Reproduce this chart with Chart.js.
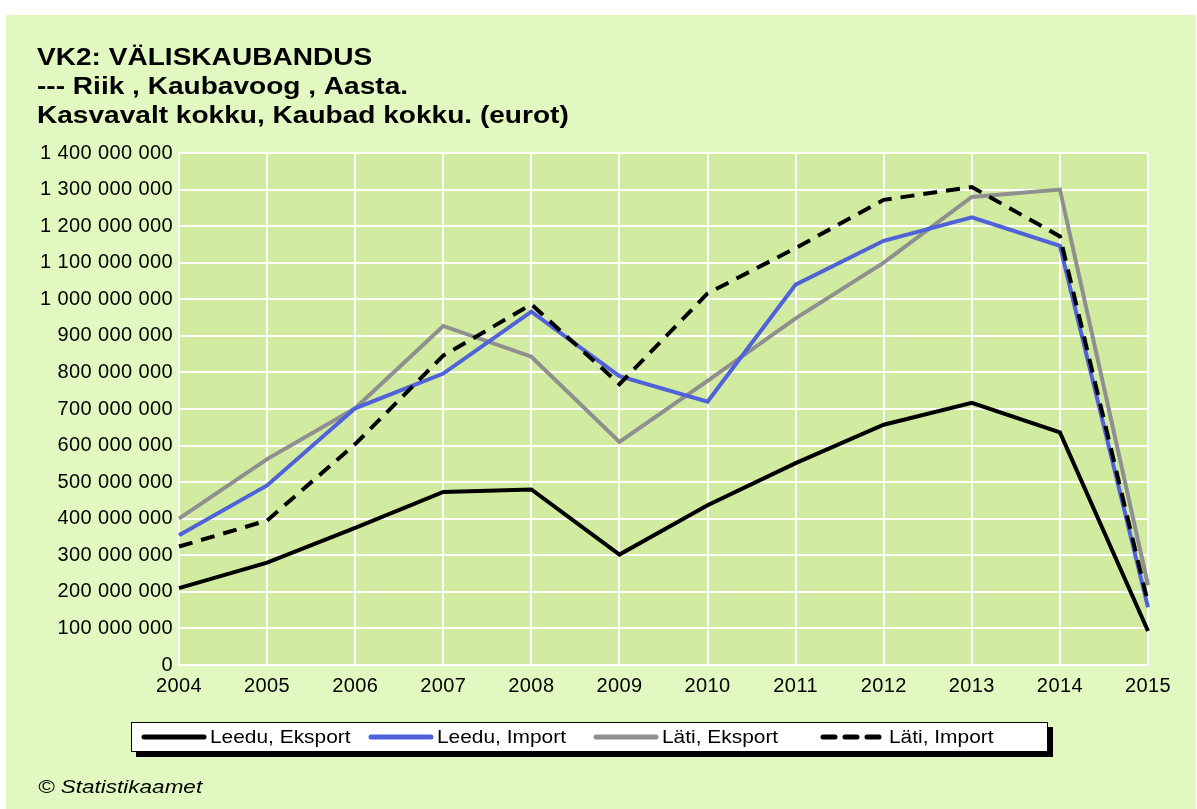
<!DOCTYPE html>
<html>
<head>
<meta charset="utf-8">
<script src="https://cdn.jsdelivr.net/npm/chart.js@4/dist/chart.umd.min.js"></script>
<style>
    body { margin: 0; background: #ffffff; }
    canvas { display: block; }
</style>
</head>
<body>
<canvas id="vkChart" width="1197" height="809"></canvas>
<script>
// aastad
const years = ['2004', '2005', '2006', '2007', '2008', '2009', '2010', '2011', '2012', '2013', '2014', '2015'];

// eurot
const leeduEksport = [210e6, 280e6, 375e6, 473e6, 480e6, 302e6, 437e6, 552e6, 657e6, 717e6, 636e6, 93e6];
const leeduImport = [355e6, 491e6, 702e6, 797e6, 966e6, 790e6, 720e6, 1040e6, 1160e6, 1224e6, 1146e6, 158e6];
const latiEksport = [400e6, 563e6, 702e6, 927e6, 843e6, 610e6, 777e6, 948e6, 1100e6, 1280e6, 1300e6, 218e6];
const latiImport = [324e6, 395e6, 604e6, 846e6, 986e6, 768e6, 1016e6, 1140e6, 1272e6, 1307e6, 1172e6, 170e6];

const seriesNames = ['Leedu, Eksport', 'Leedu, Import', 'Läti, Eksport', 'Läti, Import'];

const titleLines = ['VK2: VÄLISKAUBANDUS', '--- Riik , Kaubavoog , Aasta.', 'Kasvavalt kokku, Kaubad kokku. (eurot)'];
const footerText = '© Statistikaamet';

const FONT = '"Liberation Sans", Arial, sans-serif';

function fmtSpaces(v) {
    return String(Math.round(v)).replace(/\B(?=(\d{3})+(?!\d))/g, ' ');
}

// tekst horisontaalselt venitatuna (originaalpilt on laiem)
function wideText(ctx, text, x, y, sx) {
    ctx.save();
    ctx.translate(x, y);
    ctx.scale(sx, 1);
    ctx.fillText(text, 0, 0);
    ctx.restore();
}

// taust, pealkiri, legend
const decorPlugin = {
    id: 'decor',
    beforeDraw(chart) {
        const ctx = chart.ctx;
        const a = chart.chartArea;
        ctx.save();
        ctx.fillStyle = '#ffffff';
        ctx.fillRect(0, 0, chart.width, chart.height);
        ctx.fillStyle = '#e2f8c1';
        ctx.fillRect(6, 15, chart.width - 7, chart.height - 15);
        ctx.fillStyle = '#d1eca0';
        ctx.fillRect(a.left, a.top, a.right - a.left, a.bottom - a.top);

        ctx.fillStyle = '#000000';
        ctx.textBaseline = 'alphabetic';
        ctx.font = 'bold 23px ' + FONT;
        titleLines.forEach((t, i) => wideText(ctx, t, 37, 65 + i * 29, 1.22));

        ctx.font = 'italic 18px ' + FONT;
        wideText(ctx, footerText, 38, 793, 1.25);
        ctx.restore();
        ctx.letterSpacing = '0.4px';
    },
    afterDraw(chart) {
        const ctx = chart.ctx;
        ctx.letterSpacing = '0px';
        const bx = 131, by = 722, bw = 917, bh = 30;
        ctx.save();
        ctx.fillStyle = '#000000';
        ctx.fillRect(bx + 5, by + 5, bw, bh);
        ctx.fillStyle = '#ffffff';
        ctx.fillRect(bx, by, bw, bh);
        ctx.strokeStyle = '#000000';
        ctx.lineWidth = 1;
        ctx.strokeRect(bx + 0.5, by + 0.5, bw - 1, bh - 1);

        const starts = [142, 369, 594, 821];
        ctx.font = '19px ' + FONT;
        ctx.textBaseline = 'middle';
        chart.data.datasets.forEach((ds, i) => {
            const x = starts[i];
            const y = by + bh / 2;
            ctx.beginPath();
            ctx.setLineDash(ds.borderDash ? [12, 10] : []);
            ctx.strokeStyle = ds.borderColor;
            ctx.lineWidth = 5;
            ctx.lineCap = 'round';
            ctx.moveTo(x + 2, y);
            ctx.lineTo(x + 62, y);
            ctx.stroke();
            ctx.setLineDash([]);
            ctx.fillStyle = '#000000';
            wideText(ctx, ds.label, x + 68, y + 1, 1.1);
        });
        ctx.restore();
    }
};

const ctx = document.getElementById('vkChart').getContext('2d');
window.vkChart = new Chart(ctx, {
    type: 'line',
    data: {
        labels: years,
        datasets: [
            { label: seriesNames[0], data: leeduEksport, borderColor: '#000000', order: 2 },
            { label: seriesNames[1], data: leeduImport, borderColor: '#4f62d9', order: 1 },
            { label: seriesNames[2], data: latiEksport, borderColor: '#8f8f8f', order: 3 },
            { label: seriesNames[3], data: latiImport, borderColor: '#000000', borderDash: [14, 9], order: 0 }
        ].map(d => Object.assign({ borderWidth: 4, pointRadius: 0, tension: 0, fill: false }, d))
    },
    options: {
        responsive: false,
        animation: false,
        layout: { padding: { left: 7, right: 49, top: 153, bottom: 114 } },
        plugins: {
            legend: { display: false },
            title: { display: false },
            tooltip: { enabled: false }
        },
        scales: {
            x: {
                offset: false,
                afterFit: s => { s.height = 30; },
                grid: { color: '#ffffff', lineWidth: 2, drawTicks: false },
                border: { color: '#ffffff', width: 2 },
                ticks: {
                    color: '#000000',
                    padding: 9,
                    maxRotation: 0,
                    autoSkip: false,
                    font: { family: FONT, size: 20 }
                }
            },
            y: {
                min: 0,
                max: 1400000000,
                afterFit: s => { s.width = 172; },
                grid: { color: '#ffffff', lineWidth: 2, drawTicks: false },
                border: { color: '#ffffff', width: 2 },
                ticks: {
                    stepSize: 100000000,
                    color: '#000000',
                    padding: 6,
                    font: { family: FONT, size: 20 },
                    callback: v => fmtSpaces(v)
                }
            }
        }
    },
    plugins: [decorPlugin]
});
</script>
</body>
</html>
